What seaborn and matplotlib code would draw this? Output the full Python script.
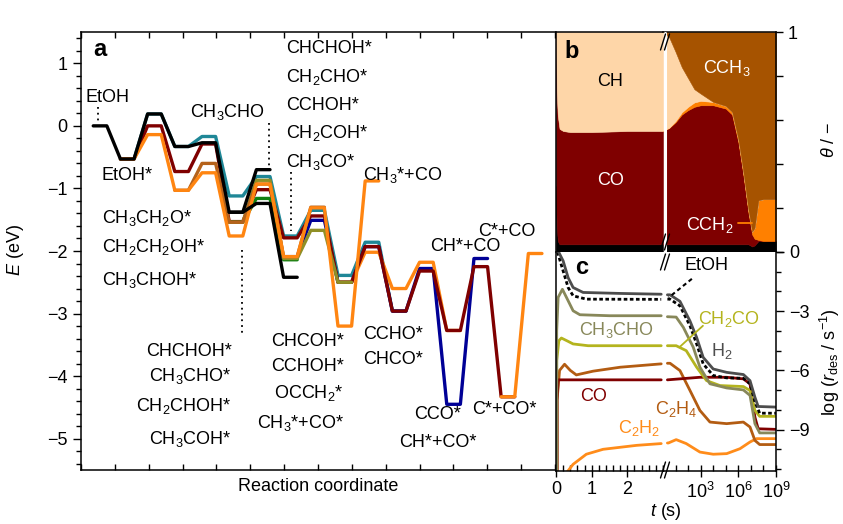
import numpy as np
import pandas as pd
import seaborn as sns
import matplotlib
matplotlib.use("Agg")
from matplotlib import pyplot as plt
from matplotlib.lines import Line2D
from matplotlib.ticker import MultipleLocator, FixedLocator

W, H = 843, 524

# ---------------- panel a: energies (eV) per state, (first state index, values)
black_main = (0, [0.0, -0.53, 0.19, -0.33, -0.27, -1.38, -1.24, -2.42])
black_gas = (5, [-1.38, -0.70])
teal_path = (1, [-0.53, 0.19, -0.33, -0.17, -1.12, -0.81, -1.76, -1.35, -2.39, -1.86, -2.96])
blue_path = (7, [-2.09, -1.51, -2.5, -1.93, -2.96, -2.28, -4.45, -2.12])
orange_late = (9, [-2.5, -2.02, -2.6, -2.18, -3.27])
maroon_path = (1, [-0.53, 0.0, -0.73, -0.29, -1.53, -1.02, -1.79, -1.44, -2.5, -1.93,
                   -2.96, -2.32, -3.27, -2.25, -4.33])
green_path = (5, [-1.54, -1.16, -2.14])
olive_path = (5, [-1.54, -0.87, -2.12, -1.67, -2.5])
brown_path = (3, [-1.03, -0.6, -1.54, -0.93, -2.09, -1.3])
orange_early = (1, [-0.53, -0.14, -1.03, -0.75, -1.76, -0.93, -2.09, -1.31, -3.2, -0.88])
orange_end = (15, [-4.33, -2.04])

# ---------------- panel b: coverages
b_t_lin = [0, 0.02, 0.05, 0.1, 0.2, 0.4, 1.0, 2.0, 3.0]
b_black_lin = [0.3, 0.12, 0.05, 0.035, 0.035, 0.035, 0.035, 0.035, 0.035]
b_co_lin = [0.7, 0.61, 0.57, 0.525, 0.515, 0.51, 0.51, 0.515, 0.515]
b_ch_lin = [0.0, 0.27, 0.38, 0.44, 0.45, 0.455, 0.455, 0.45, 0.45]

b_logt = [0, 0.5, 1, 1.5, 2, 2.5, 3, 4, 5, 5.5, 6, 6.4, 6.8, 7.1, 7.3, 7.6, 8, 9]
b_black_log = [0.035, 0.035, 0.035, 0.035, 0.035, 0.035, 0.035, 0.035, 0.035, 0.035,
               0.035, 0.035, 0.035, 0.025, 0.03, 0.05, 0.05, 0.05]
b_co_log = [0.515, 0.53, 0.555, 0.59, 0.61, 0.625, 0.632, 0.632, 0.617, 0.59,
            0.465, 0.315, 0.145, 0.055, 0.03, 0.005, 0.0, 0.0]
b_cch2_log = [0.0, 0.0, 0.005, 0.01, 0.015, 0.02, 0.02, 0.015, 0.012, 0.012,
              0.012, 0.012, 0.012, 0.012, 0.05, 0.18, 0.19, 0.19]
b_ch_log = [0.45, 0.41, 0.315, 0.205, 0.13, 0.06, 0.033, 0, 0, 0, 0, 0, 0, 0, 0, 0, 0, 0]
b_cch3_log = [0.0, 0.025, 0.09, 0.16, 0.21, 0.26, 0.28, 0.318, 0.336, 0.363,
              0.488, 0.638, 0.808, 0.908, 0.89, 0.765, 0.76, 0.76]

# ---------------- panel c: log desorption rates, (t or log10 t, value)
h2_lin = ([0.06, 0.2, 0.34, 0.48, 0.76, 1.8, 2.95], [0.05, -0.45, -1.3, -1.8, -2.05, -2.1, -2.14])
etoh_lin = ([0.0, 0.06, 0.2, 0.34, 0.48, 0.85, 2.95], [0.3, -0.12, -0.96, -1.8, -2.22, -2.39, -2.4])
ch3cho_lin = ([0.02, 0.02, 0.06, 0.18, 0.34, 0.48, 0.67, 1.5, 2.95],
              [-11.2, -4.0, -2.3, -1.89, -2.47, -2.98, -3.18, -3.23, -3.23])
ch2co_lin = ([0.02, 0.02, 0.08, 0.15, 0.34, 0.48, 0.9, 2.95],
             [-11.2, -5.5, -4.5, -4.36, -4.53, -4.66, -4.75, -4.75])
co_lin = ([0.03, 0.03, 0.06, 2.95], [-11.2, -7.5, -6.48, -6.48])
c2h4_lin = ([0.03, 0.03, 0.1, 0.24, 0.4, 0.57, 1.04, 1.8, 2.95],
            [-11.2, -7.5, -6.0, -5.69, -6.0, -6.23, -6.04, -5.84, -5.67])
c2h2_lin = ([0.29, 0.48, 0.85, 1.32, 2.26, 2.95], [-11.2, -10.76, -10.25, -10.0, -9.8, -9.71])

h2_log = ([0.35, 0.56, 1.35, 2.15, 2.68, 3.2, 4.0, 5.07, 6.4, 6.93, 7.32, 7.58, 9],
          [-2.17, -2.17, -2.5, -3.5, -4.33, -5.34, -5.93, -6.1, -6.21, -6.52, -7.36, -7.83, -7.86])
etoh_log = ([0.35, 0.56, 1.35, 2.15, 2.68, 3.2, 4.0, 5.07, 6.4, 6.93, 7.32, 7.7, 9],
            [-2.39, -2.39, -2.73, -3.74, -4.66, -5.67, -6.26, -6.38, -6.4, -6.68, -7.6, -8.17, -8.17])
ch3cho_log = ([0.35, 1.05, 1.62, 2.41, 2.94, 3.74, 5.07, 6.4, 6.93, 7.32, 7.7, 9],
              [-3.28, -3.3, -3.82, -4.83, -5.84, -6.68, -6.89, -6.99, -7.27, -8.7, -9.17, -9.17])
ch2co_log = ([0.35, 1.05, 1.85, 2.68, 3.47, 4.54, 6.4, 6.93, 7.32, 7.7, 9],
             [-4.75, -4.75, -5.0, -5.84, -6.52, -6.77, -6.82, -7.02, -8.03, -8.33, -8.33])
co_log = ([0.35, 1.35, 2.94, 5.07, 6.4, 6.93, 7.32, 7.58, 9],
          [-6.48, -6.43, -6.35, -6.35, -6.43, -6.68, -8.37, -8.96, -8.99])
c2h4_log = ([0.35, 0.56, 1.35, 2.15, 2.94, 3.74, 5.07, 6.4, 6.93, 7.32, 7.7, 9],
            [-5.64, -5.64, -6.01, -7.02, -8.03, -8.62, -8.7, -8.62, -8.87, -9.55, -9.76, -9.76])
c2h2_log = ([0.35, 0.43, 1.05, 1.85, 2.94, 4.0, 5.07, 6.13, 6.93, 7.45, 9],
            [-9.68, -9.68, -9.51, -9.71, -10.14, -10.25, -10.22, -9.97, -9.63, -9.46, -9.46])

sns.set_theme(style="ticks")
plt.rcParams['font.family'] = ['Liberation Sans', 'DejaVu Sans']
plt.rcParams['mathtext.fontset'] = 'custom'
plt.rcParams['mathtext.rm'] = 'Liberation Sans'
plt.rcParams['mathtext.it'] = 'Liberation Sans:italic'
plt.rcParams['mathtext.bf'] = 'Liberation Sans:bold'
plt.rcParams['axes.edgecolor'] = 'black'
plt.rcParams['axes.linewidth'] = 1.1
plt.rcParams['text.color'] = 'black'
plt.rcParams['axes.labelcolor'] = 'black'
plt.rcParams['xtick.color'] = 'black'
plt.rcParams['ytick.color'] = 'black'
plt.rcParams['xtick.labelcolor'] = 'black'
plt.rcParams['ytick.labelcolor'] = 'black'
FS = 13

fig = plt.figure(figsize=(W / 100, H / 100), dpi=100)


def rect(x0, y0, x1, y1):
    return [x0 / W, 1 - y1 / H, (x1 - x0) / W, (y1 - y0) / H]


ax_a = fig.add_axes(rect(81, 32, 555, 470))
ax_bl = fig.add_axes(rect(556, 32, 663, 252))
ax_br = fig.add_axes(rect(663, 32, 776, 252))
ax_cl = fig.add_axes(rect(556, 252, 663, 471))
ax_cr = fig.add_axes(rect(663, 252, 776, 471))

# ---------------- panel a
C_TEAL, C_MAROON, C_ORANGE = '#1f8797', '#7f0000', '#ff8511'
C_BROWN, C_OLIVE, C_GREEN, C_BLUE = '#b5621b', '#8f8f26', '#118011', '#000096'


def steps(path, half=0.25):
    k0, energies = path
    xs, ys = [], []
    for i, e in enumerate(energies):
        xs += [k0 + i - half, k0 + i + half]
        ys += [e, e]
    return xs, ys


draw = [(teal_path, C_TEAL), (blue_path, C_BLUE), (orange_late, C_ORANGE),
        (maroon_path, C_MAROON), (green_path, C_GREEN), (olive_path, C_OLIVE),
        (brown_path, C_BROWN), (orange_early, C_ORANGE), (orange_end, C_ORANGE),
        (black_gas, 'black'), (black_main, 'black')]
for path, col in draw:
    xs, ys = steps(path)
    ax_a.plot(xs, ys, color=col, lw=2.4, solid_joinstyle='round')

dots = dict(color='black', lw=1.3, ls=(0, (1, 2.2)))
ax_a.plot([-0.06, -0.06], [0.30, 0.06], **dots)
ax_a.plot([6.2, 6.2], [0.05, -0.66], **dots)
ax_a.plot([7.03, 7.03], [-0.74, -1.68], **dots)
ax_a.plot([5.21, 5.21], [-1.98, -3.31], **dots)

labels_a = [
    ("EtOH", 0.28, 0.46, 'center'), ("EtOH*", 1.0, -0.79, 'center'),
    ("CH$_3$CH$_2$O*", 0.06, -1.47, 'left'), ("CH$_2$CH$_2$OH*", 0.06, -1.93, 'left'),
    ("CH$_3$CHOH*", 0.06, -2.46, 'left'), ("CH$_3$CHO", 6.07, 0.22, 'right'),
    ("CHCHOH*", 6.84, 1.23, 'left'), ("CH$_2$CHO*", 6.84, 0.78, 'left'),
    ("CCHOH*", 6.84, 0.33, 'left'), ("CH$_2$COH*", 6.84, -0.12, 'left'),
    ("CH$_3$CO*", 6.84, -0.58, 'left'), ("CH$_3$*+CO", 9.67, -0.79, 'left'),
    ("CHCHOH*", 4.85, -3.6, 'right'), ("CH$_3$CHO*", 4.85, -4.0, 'right'),
    ("CH$_2$CHOH*", 4.85, -4.48, 'right'), ("CH$_3$COH*", 4.85, -5.01, 'right'),
    ("CHCOH*", 8.97, -3.44, 'right'), ("CCHOH*", 8.97, -3.85, 'right'),
    ("OCCH$_2$*", 8.97, -4.27, 'right'), ("CH$_3$*+CO*", 8.97, -4.75, 'right'),
    ("CCHO*", 9.68, -3.34, 'left'), ("CHCO*", 9.68, -3.74, 'left'),
    ("CH*+CO", 12.13, -1.93, 'left'), ("C*+CO", 13.9, -1.69, 'left'),
    ("CCO*", 12.41, -4.61, 'center'), ("CH*+CO*", 12.43, -5.06, 'center'),
    ("C*+CO*", 14.86, -4.53, 'center'),
]
for txt, x, y, ha in labels_a:
    ax_a.text(x, y, txt, ha=ha, va='center', fontsize=FS, color='black')
ax_a.text(0.025, 0.96, "a", transform=ax_a.transAxes, fontsize=17, fontweight='bold',
          va='center', ha='left', color='black')

ax_a.set_xlim(-0.70, 16.73)
ax_a.set_ylim(-5.5, 1.5)
ax_a.spines['right'].set_visible(False)
ax_a.yaxis.set_major_locator(FixedLocator(range(-5, 2)))
ax_a.yaxis.set_minor_locator(MultipleLocator(0.2))
ax_a.tick_params(axis='y', which='major', direction='out', length=6, width=1, labelsize=FS)
ax_a.tick_params(axis='y', which='minor', direction='out', length=3.5, width=1)
ax_a.set_xticks(np.linspace(-0.70, 16.73, 15))
ax_a.tick_params(axis='x', direction='in', top=True, bottom=True, labelbottom=False,
                 length=4, width=1)
ax_a.set_xlabel("Reaction coordinate", fontsize=FS, labelpad=6, color='black')
fig.text(15 / W, 1 - 250 / H, "$E$ (eV)", rotation=90, ha='center', va='center', fontsize=FS)

# ---------------- panel b
C_CH, C_CCH3 = '#fed6a8', '#a65300'
ax_bl.stackplot(b_t_lin, b_black_lin, b_co_lin, b_ch_lin,
                colors=['black', C_MAROON, C_CH], lw=0.4, edgecolor='face')
ax_br.stackplot(b_logt, b_black_log, b_co_log, b_cch2_log, b_ch_log, b_cch3_log,
                colors=['black', C_MAROON, '#ff8000', C_CH, C_CCH3], lw=0.4, edgecolor='face')
ax_bl.set_xlim(0, 3.0)
ax_br.set_xlim(0, 9)
for ax in (ax_bl, ax_br):
    ax.set_ylim(0, 1)
    ax.set_xticks([])
    ax.spines['bottom'].set_visible(False)
ax_bl.set_yticks([])
ax_bl.spines['right'].set_visible(False)
ax_br.spines['left'].set_visible(False)
ax_br.yaxis.tick_right()
ax_br.set_yticks(np.linspace(0, 1, 6))
ax_br.set_yticklabels(['', '', '', '', '', '1'])
ax_br.tick_params(axis='y', direction='out', length=5, width=1, labelsize=FS)

ax_bl.text(0.075, 0.91, "b", transform=ax_bl.transAxes, fontsize=17, fontweight='bold',
           va='center', ha='left', color='black')
ax_bl.text(1.52, 0.777, "CH", color='black', ha='center', va='center', fontsize=FS)
ax_bl.text(1.52, 0.327, "CO", color='white', ha='center', va='center', fontsize=FS)
ax_br.text(5.1, 0.836, "CCH$_3$", color='white', ha='center', va='center', fontsize=FS)
ax_br.text(3.74, 0.123, "CCH$_2$", color='white', ha='center', va='center', fontsize=FS)
ax_br.plot([6.0, 7.1], [0.13, 0.13], color='#ff8000', lw=1.3)

# ---------------- panel c
species = ['C$_2$H$_2$', 'C$_2$H$_4$', 'CO', 'CH$_2$CO', 'CH$_3$CHO', 'EtOH', 'H$_2$']
palette = {'C$_2$H$_2$': '#ff8c1a', 'C$_2$H$_4$': '#b35c12', 'CO': '#800000',
           'CH$_2$CO': '#b4b41e', 'CH$_3$CHO': '#88885a', 'EtOH': 'black', 'H$_2$': '#4d4d4d'}
lin_series = [c2h2_lin, c2h4_lin, co_lin, ch2co_lin, ch3cho_lin, etoh_lin, h2_lin]
log_series = [c2h2_log, c2h4_log, co_log, ch2co_log, ch3cho_log, etoh_log, h2_log]


def long_frame(series):
    rows = []
    for name, (ts, vs) in zip(species, series):
        for i, (t, v) in enumerate(zip(ts, vs)):
            rows.append({'species': name, 'order': i, 't': t, 'v': v})
    return pd.DataFrame(rows)


dashes = {s: '' for s in species}
dashes['EtOH'] = (1.3, 0.9)
for ax, series in ((ax_cl, lin_series), (ax_cr, log_series)):
    df = long_frame(series)
    sns.lineplot(data=df, x='t', y='v', hue='species', style='species', hue_order=species,
                 style_order=species, palette=palette, dashes=dashes, sort=False,
                 estimator=None, legend=False, lw=2, ax=ax)
    ax.set_ylim(-11.1, 0)
    ax.set_xlabel('')
    ax.set_ylabel('')
    ax.spines['top'].set_visible(False)

ax_cl.set_xlim(0, 3.0)
ax_cr.set_xlim(0, 9)
ax_cl.spines['right'].set_visible(False)
ax_cr.spines['left'].set_visible(False)
ax_cl.set_yticks([])
ax_cl.set_xticks([0, 1, 2])
ax_cl.xaxis.set_minor_locator(MultipleLocator(0.2))
ax_cr.set_xticks([3, 6, 9])
ax_cr.set_xticklabels(['10$^3$', '10$^6$', '10$^9$'])
ax_cr.xaxis.set_minor_locator(MultipleLocator(1))
for ax in (ax_cl, ax_cr):
    ax.tick_params(axis='x', which='major', direction='inout', length=8, width=1, labelsize=FS)
    ax.tick_params(axis='x', which='minor', direction='in', length=4, width=1)
ax_cr.yaxis.tick_right()
ax_cr.set_yticks([0, -3, -6, -9])
ax_cr.set_yticklabels(['0', '\u22123', '\u22126', '\u22129'])
ax_cr.yaxis.set_minor_locator(MultipleLocator(1))
ax_cr.tick_params(axis='y', which='major', direction='out', length=6, width=1, labelsize=FS)
ax_cr.tick_params(axis='y', which='minor', direction='out', length=3.5, width=1)

ax_cl.text(0.175, 0.927, "c", transform=ax_cl.transAxes, fontsize=17, fontweight='bold',
           va='center', ha='left', color='black')
ax_cl.text(1.69, -3.94, "CH$_3$CHO", color=palette['CH$_3$CHO'], ha='center', va='center', fontsize=FS)
ax_cl.text(1.04, -7.3, "CO", color=palette['CO'], ha='center', va='center', fontsize=FS)
ax_cl.text(2.34, -8.94, "C$_2$H$_2$", color=palette['C$_2$H$_2$'], ha='center', va='center', fontsize=FS)
ax_cr.text(1.04, -7.98, "C$_2$H$_4$", color=palette['C$_2$H$_4$'], ha='center', va='center', fontsize=FS)
ax_cr.text(3.5, -0.7, "EtOH", color='black', ha='center', va='center', fontsize=FS)
ax_cr.text(4.7, -5.0, "H$_2$", color=palette['H$_2$'], ha='center', va='center', fontsize=FS)
ax_cr.text(5.25, -3.38, "CH$_2$CO", color=palette['CH$_2$CO'], ha='center', va='center', fontsize=FS)
ax_cr.plot([2.3, 0.45], [-1.36, -2.31], color='black', lw=1.5, ls=(0, (2, 1.5)))
ax_cr.plot([3.18, 1.35], [-3.74, -4.8], color=palette['CH$_2$CO'], lw=1.3)

fig.text(666 / W, 1 - 512 / H, "$t$ (s)", ha='center', va='center', fontsize=FS)
fig.text(830 / W, 1 - 140 / H, "$\\theta$ / \u2212", rotation=90, ha='center', va='center', fontsize=FS)
fig.text(830 / W, 1 - 362 / H, "log ($r_\\mathrm{des}$ / s$^{-1}$)", rotation=90,
         ha='center', va='center', fontsize=FS)

# axis break: white gap through panel b and // marks
fig.add_artist(Line2D([665 / W, 665 / W], [1 - 33 / H, 1 - 251 / H], color='white', lw=2.2))
for yc in (42, 242, 262, 470):
    for dx in (-2, 2):
        x0 = (665 + dx - 2.5) / W
        x1 = (665 + dx + 2.5) / W
        fig.add_artist(Line2D([x0, x1], [1 - (yc + 8) / H, 1 - (yc - 8) / H], color='black', lw=1))

plt.savefig('out.png', dpi=100)
